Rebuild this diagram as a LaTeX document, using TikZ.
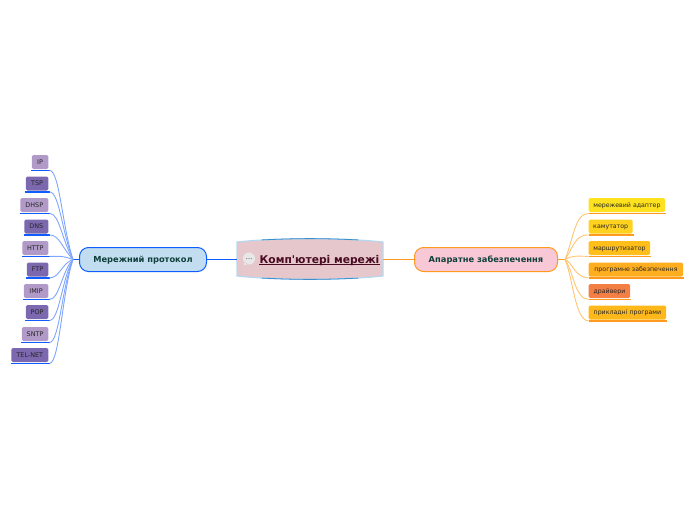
\documentclass[tikz,border=0pt]{standalone}
\usepackage{fontspec}
\setmainfont{DejaVu Sans}
\newfontfamily\rootfont{DejaVu Sans}
\definecolor{lineblue}{HTML}{0F5CFF}
\definecolor{paleblue}{HTML}{7FA5FF}
\definecolor{lineorange}{HTML}{FF9A1F}
\definecolor{paleorange}{HTML}{FFC46E}
\definecolor{lilac}{HTML}{B29AC8}
\definecolor{violet}{HTML}{7B68AE}
\definecolor{mainblue}{HTML}{C2DDF0}
\definecolor{mainpink}{HTML}{F9C8D6}
\definecolor{rootpink}{HTML}{E6C7CC}
\definecolor{rootedge}{HTML}{3A8FD0}
\definecolor{rootpale}{HTML}{B5D8F0}
\definecolor{textgreen}{HTML}{0F3F3A}
\definecolor{textroot}{HTML}{4A0B22}
\tikzset{
	mainbox/.style={draw, line width=1pt, rounded corners=9pt, inner sep=0pt, minimum height=24pt, text height=6.2pt, text depth=0pt, font=\bfseries\fontsize{8.3}{10}\selectfont, text=textgreen},
	leafbox/.style={rounded corners=1.5pt, inner sep=0pt, minimum height=14pt, text height=4.1pt, text depth=0pt, text=black!85, font=\fontsize{6.4}{8}\selectfont}
}
\begin{document}
\begin{tikzpicture}[x=1pt,y=-1pt]
				\useasboundingbox (0,0) rectangle (696,520);
				% root topic
				\coordinate (rootnw) at (237,242);
				\coordinate (rootne) at (383,242);
				\coordinate (rootse) at (383,276);
				\coordinate (rootsw) at (237,276);
				\fill [rootpink] (rootnw) .. controls (280,237.5) and (340,237.5) .. (rootne) -- (rootse) .. controls (340,280.5) and (280,280.5) .. (rootsw) -- cycle;
				\draw [rootpale, line width=1.2pt] (rootnw) .. controls (280,237.5) and (340,237.5) .. (rootne) -- (rootse) .. controls (340,280.5) and (280,280.5) .. (rootsw) -- cycle;
				\draw [rootedge, line width=0.8pt] (262,239.9) .. controls (300,238.2) and (320,238.2) .. (358,239.9);
				\draw [rootedge, line width=0.8pt] (262,278.1) .. controls (300,279.8) and (320,279.8) .. (358,278.1);
				\node [text height=8pt, text depth=0pt, inner sep=0pt] (root) at (319.5,259) {\rootfont\bfseries\fontsize{10.7}{13}\selectfont\color{textroot}Комп'ютері мережі};
				\draw [textroot, line width=0.8pt] ([yshift=-1.4pt]root.south west) -- ([yshift=-1.4pt]root.south east);
				% note icon
				\fill [black!9] (249,258.5) circle (6) (245,262) -- (243.5,265.5) -- (248,264) -- cycle;
				\foreach \x in {246.7, 249, 251.3}
					\fill [black!50] (\x,258.5) circle (0.6);
				
				% main topics
				\node [mainbox, fill=mainblue, draw=lineblue, minimum width=127pt] (proto) at (143,259.5) {Мережний протокол};
				\node [mainbox, fill=mainpink, draw=lineorange, minimum width=143pt] (hard) at (486,259.5) {Апаратне забезпечення};
				\coordinate (rootleft) at (237,259.5);
				\coordinate (rootright) at (383,259.5);
				\draw [lineblue, line width=1.2pt] (proto) -- (rootleft);
				\draw [lineorange, line width=1.2pt] (rootright) -- (hard);
				\coordinate (lefthub) at (73,259.5);
				\coordinate (righthub) at (565,259.5);
				\draw [lineblue, line width=1.4pt] (lefthub) -- (proto.west);
				\draw [lineorange, line width=1.4pt] (hard.east) -- (righthub);
				
				% network protocols
				\foreach \name/\w/\y/\col in {IP/16.5/162/lilac, TSP/22.5/183.5/violet, DHSP/28/205/lilac, DNS/24/226.5/violet, HTTP/26/248/lilac, FTP/21.5/269.5/violet, IMIP/24.5/291/lilac, POP/22.5/312/violet, SNTP/26.5/334/lilac, TEL-NET/37/355/violet}{
					\node [leafbox, fill=\col, minimum width=\w pt, anchor=east] (\name) at (48.5,\y) {\name};
					\draw [lineblue, line width=1.3pt] ([xshift=-0.5pt,yshift=-1.2pt]\name.south west) -- ([xshift=1pt,yshift=-1.2pt]\name.south east) coordinate (\name end);
					\draw [paleblue, line width=0.9pt] (\name end) .. controls +(10,0) and (62,{259.5+(\y-259.5)*0.35}) .. (lefthub);
				}
				
				% hardware
				\foreach \name/\w/\y/\col/\txt in {adapter/76.5/205/FFE21F/мережевий адаптер, switch/44/226.5/FFD21F/камутатор, router/61.5/248/FFBE1A/маршрутизатор, soft/94.5/269.5/FFAE20/програмне забезпечення, driver/41.5/291/F47F45/драйвери, apps/77.5/312.5/FFB81A/прикладні програми}{
					\definecolor{leafcol}{HTML}{\col}
					\node [leafbox, fill=leafcol, minimum width=\w pt, anchor=west, font=\fontsize{6.25}{8}\selectfont] (\name) at (588.5,\y) {\txt};
					\draw [lineorange, line width=1.3pt] ([yshift=-1.2pt]\name.south west) -- ([xshift=1pt,yshift=-1.2pt]\name.south east);
					\draw [paleorange, line width=0.9pt] (righthub) .. controls (573,{259.5+(\y-259.5)*0.35}) and (575,\y+8) .. ([yshift=-1.2pt]\name.south west);
				}
			\end{tikzpicture}
\end{document}
